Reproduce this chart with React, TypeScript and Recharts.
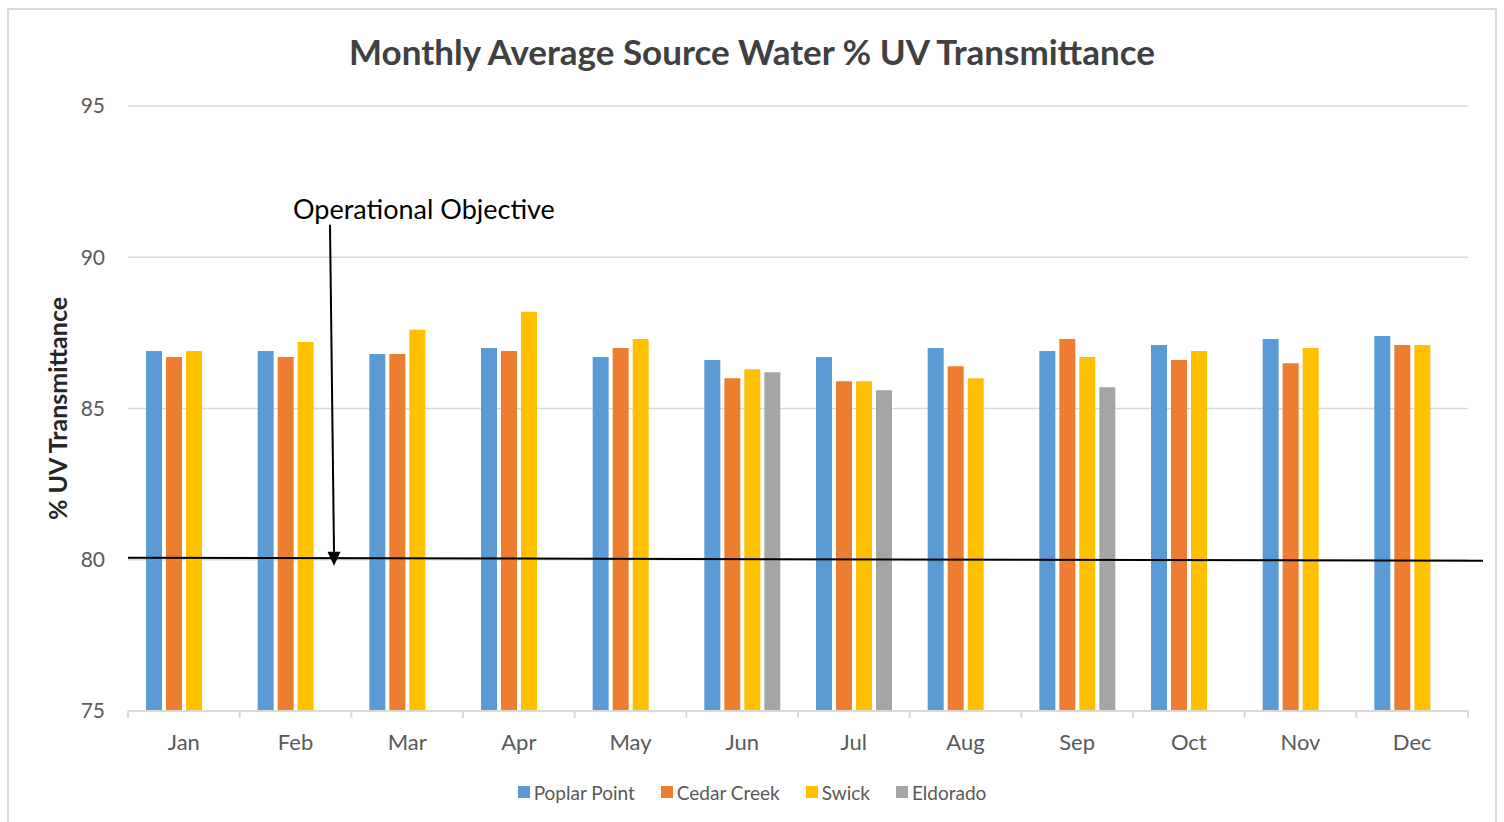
import React from 'react';
import { BarChart, Bar, XAxis, YAxis, CartesianGrid, Legend, ReferenceLine } from 'recharts';

const months = ['Jan', 'Feb', 'Mar', 'Apr', 'May', 'Jun', 'Jul', 'Aug', 'Sep', 'Oct', 'Nov', 'Dec'];
const poplarPoint = [86.9, 86.9, 86.8, 87.0, 86.7, 86.6, 86.7, 87.0, 86.9, 87.1, 87.3, 87.4];
const cedarCreek = [86.7, 86.7, 86.8, 86.9, 87.0, 86.0, 85.9, 86.4, 87.3, 86.6, 86.5, 87.1];
const swick = [86.9, 87.2, 87.6, 88.2, 87.3, 86.3, 85.9, 86.0, 86.7, 86.9, 87.0, 87.1];
const eldorado: (number | null)[] = [null, null, null, null, null, 86.2, 85.6, null, 85.7, null, null, null];
const yTicks = [75, 80, 85, 90, 95];
const objective = 80;

const seriesList = [
  { key: 'poplar', name: 'Poplar Point', color: '#5B9BD5' },
  { key: 'cedar', name: 'Cedar Creek', color: '#ED7D31' },
  { key: 'swick', name: 'Swick', color: '#FFC000' },
  { key: 'eldorado', name: 'Eldorado', color: '#A5A5A5' },
];

const data = months.map((m, i) => ({
  month: m,
  mid: i + 0.5,
  poplar: poplarPoint[i],
  cedar: cedarCreek[i],
  swick: swick[i],
  eldorado: eldorado[i],
}));

const boundaryTicks: number[] = [];
for (let i = 0; i <= months.length * 2; i++) boundaryTicks.push(i / 2);

const FONT = 'Lato, "Open Sans", sans-serif';

const BottomTick = (props: any) => {
  const { x, y, payload } = props;
  const v = payload.value as number;
  if (Number.isInteger(v)) {
    return <line x1={x} y1={y} x2={x} y2={y + 7} stroke="#d9d9d9" strokeWidth={2} />;
  }
  const label = months[Math.floor(v)];
  return (
    <text x={x} y={y + 23} dy="0.71em" textAnchor="middle" fill="#595959" fontSize={22} fontFamily={FONT}>
      {label}
    </text>
  );
};

const ObjectiveShape = (props: any) => {
  const { x1, y1, x2, y2 } = props;
  const tipX = x1 + 206;
  return (
    <g>
      <line x1={x1} y1={y1 - 2} x2={x2 + 15} y2={y2 + 1} stroke="#000" strokeWidth={2} />
      <text x={x1 + 165} y={y1 - 341} fill="#000" fontSize={27} fontFamily={FONT}>
        Operational Objective
      </text>
      <line x1={x1 + 202} y1={y1 - 335} x2={tipX} y2={y1 - 8} stroke="#000" strokeWidth={2} />
      <polygon points={`${tipX},${y1 + 6} ${tipX - 6.5},${y1 - 8} ${tipX + 6.5},${y1 - 8}`} fill="#000" />
    </g>
  );
};

const LegendContent = () => (
  <div
    style={{
      display: 'flex',
      justifyContent: 'center',
      alignItems: 'center',
      height: 24,
      fontFamily: FONT,
      fontSize: 19,
      color: '#595959',
    }}
  >
    {seriesList.map((s, i) => (
      <span key={s.key} style={{ display: 'flex', alignItems: 'center', marginLeft: i === 0 ? 0 : 26 }}>
        <span style={{ display: 'inline-block', width: 12, height: 12, background: s.color, marginRight: 4 }} />
        {s.name}
      </span>
    ))}
  </div>
);

export default function App() {
  return (
    <div
      style={{
        position: 'fixed',
        left: 7,
        top: 8,
        width: 1486,
        height: 830,
        borderTop: '2px solid #d9d9d9',
        borderLeft: '2px solid #d9d9d9',
        borderRight: '2px solid #d9d9d9',
        background: '#fff',
      }}
    >
      <div
        style={{
          position: 'absolute',
          left: 0,
          top: 21,
          width: 1486,
          textAlign: 'center',
          fontFamily: FONT,
          fontWeight: 700,
          fontSize: 35,
          lineHeight: '40px',
          color: '#404040',
        }}
      >
        Monthly Average Source Water % UV Transmittance
      </div>
      <BarChart
        width={1486}
        height={812}
        data={data}
        margin={{ top: 96, right: 27, left: 0, bottom: 27 }}
        barSize={16}
        barGap={4}
      >
        <CartesianGrid horizontal vertical={false} stroke="#d9d9d9" strokeWidth={1.5} xAxisId="num" />
        <XAxis xAxisId="cat" dataKey="month" hide height={0} />
        <XAxis
          xAxisId="num"
          dataKey="mid"
          type="number"
          domain={[0, months.length]}
          ticks={boundaryTicks}
          interval={0}
          allowDataOverflow
          height={60}
          tickLine={false}
          tickSize={0}
          tickMargin={0}
          axisLine={{ stroke: '#d9d9d9', strokeWidth: 2 }}
          tick={<BottomTick />}
        />
        <YAxis
          domain={[75, 95]}
          ticks={yTicks}
          width={119}
          axisLine={false}
          tickLine={false}
          tickSize={0}
          tickMargin={23}
          allowDataOverflow
          tick={{ fill: '#595959', fontSize: 21, fontFamily: FONT }}
          label={{
            content: (p: any) => {
              const vb = p.viewBox || { x: 0, y: 96, width: 119, height: 605 };
              const cx = vb.x + 48;
              const cy = vb.y + vb.height / 2;
              return (
                <text
                  x={cx}
                  y={cy}
                  transform={`rotate(-90, ${cx}, ${cy})`}
                  textAnchor="middle"
                  dominantBaseline="central"
                  fontFamily={FONT}
                  fontWeight={700}
                  fontSize={25}
                  fill="#262626"
                >
                  % UV Transmittance
                </text>
              );
            },
          }}
        />
        {seriesList.map((s) => (
          <Bar key={s.key} xAxisId="cat" dataKey={s.key} name={s.name} fill={s.color} isAnimationActive={false} />
        ))}
        <ReferenceLine xAxisId="cat" y={objective} shape={<ObjectiveShape />} />
        <Legend
          verticalAlign="bottom"
          content={<LegendContent />}
          wrapperStyle={{ bottom: 18, left: 0, width: 1486 }}
        />
      </BarChart>
    </div>
  );
}
